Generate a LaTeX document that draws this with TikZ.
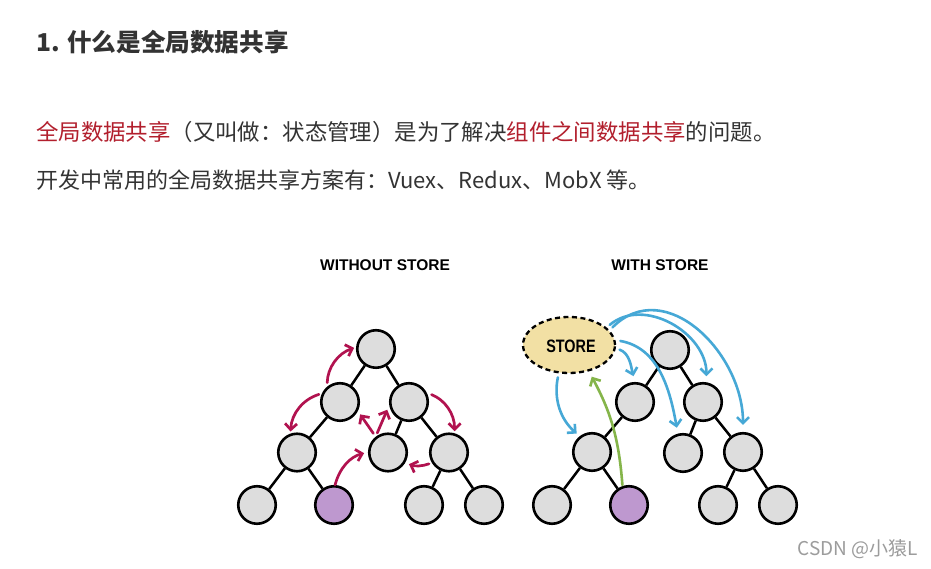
\documentclass[tikz,border=0pt]{standalone}
\usepackage{fontspec}
\setmainfont{Noto Sans CJK SC}
\newfontfamily\headfont{Liberation Sans}
\usetikzlibrary{arrows.meta,shapes.geometric}
\definecolor{txt}{HTML}{333333}
\definecolor{hl}{HTML}{B21F2D}
\definecolor{nodegray}{HTML}{DDDDDD}
\definecolor{purp}{HTML}{BE98CF}
\definecolor{magc}{HTML}{B1124F}
\definecolor{bluec}{HTML}{46A8D6}
\definecolor{greenc}{HTML}{85B54A}
\definecolor{storey}{HTML}{F2E0A4}
\definecolor{wm}{HTML}{9C9C9C}
\begin{document}
\begin{tikzpicture}[x=1pt,y=1pt,
  gnode/.style={circle,draw=black,line width=2.6pt,fill=nodegray,minimum size=37.5pt,inner sep=0pt},
  pnode/.style={gnode,fill=purp},
  edge/.style={draw=black,line width=2.5pt},
  tip/.style={-{Straight Barb[length=6pt,width=12pt]}},
  mag/.style={draw=magc,line width=2.7pt,line cap=round,tip},
  blu/.style={draw=bluec,line width=2.6pt,line cap=round,tip},
  grn/.style={draw=greenc,line width=2.6pt,line cap=round,tip},
  head/.style={font=\headfont\fontsize{15.5}{18}\selectfont\bfseries,text=black,anchor=base,inner sep=0pt},
  para/.style={anchor=base west,inner sep=0pt,text=txt}
]
\fill[white] (0,0) rectangle (931,569);
\useasboundingbox (0,0) rectangle (931,569);

% texts
\node[para,font=\fontsize{24.6}{28}\selectfont\bfseries] (title) at (36,517.5) {1. 什么是全局数据共享};
\node[para,font=\fontsize{22.4}{26}\selectfont] (line2) at (36,428.5) {\textcolor{hl}{全局数据共享}（又叫做：状态管理）是为了解决\textcolor{hl}{组件之间数据共享}的问题。};
\node[para,font=\fontsize{22}{26}\selectfont] (line3) at (36,380) {开发中常用的全局数据共享方案有：Vuex、Redux、MobX 等。};
\node[head] (h1) at (385,298.5) {WITHOUT STORE};
\node[head] (h2) at (660,298.5) {WITH STORE};
\node[anchor=base east,inner sep=0pt,text=wm,font=\fontsize{19}{22}\selectfont] (wmark) at (918,13) {CSDN @小猿L};

% left tree
\node[gnode] (A0) at (376,220) {};
\node[gnode] (A1) at (340,167) {};
\node[gnode] (A2) at (409,167) {};
\node[gnode] (A3) at (297,116.5) {};
\node[gnode] (A4) at (388,116.5) {};
\node[gnode] (A5) at (449,116.5) {};
\node[gnode] (A6) at (257,64) {};
\node[pnode] (A7) at (334,64) {};
\node[gnode] (A8) at (424,64) {};
\node[gnode] (A9) at (484,64) {};
\draw[edge] (A0) -- (A1);
\draw[edge] (A0) -- (A2);
\draw[edge] (A1) -- (A3);
\draw[edge] (A2) -- (A4);
\draw[edge] (A2) -- (A5);
\draw[edge] (A3) -- (A6);
\draw[edge] (A3) -- (A7);
\draw[edge] (A5) -- (A8);
\draw[edge] (A5) -- (A9);

% magenta arrows
\draw[mag,shorten <=4pt,shorten >=2pt] (A1.130) to[bend left=35] (A0.175);
\draw[mag,shorten <=3pt,shorten >=2pt] (A1.155) to[bend right=35] (A3.109);
\draw[mag,shorten <=4pt,shorten >=4pt] (A4.128) -- (A1.-27);
\draw[mag,shorten <=4pt,shorten >=5pt] (A4.128) -- (A2.189);
\draw[mag,shorten <=5pt,shorten >=2pt] (A2.27) to[bend left=35] (A5.74);
\draw[mag,shorten <=3pt,shorten >=4pt] (A5.211) to[bend left=20] (A4.329);
\draw[mag,shorten <=0pt,shorten >=4pt] (A7.87) to[bend left=30] (A4.179);

% right tree
\node[ellipse,draw=black,line width=2.3pt,dash pattern=on 5pt off 3.5pt,fill=storey,minimum width=92pt,minimum height=56pt,inner sep=0pt] (S) at (569,224) {};
\node[font=\headfont\fontsize{18}{20}\selectfont\bfseries,inner sep=0pt,xscale=0.8] (stxt) at (571,223) {STORE};
\node[gnode] (B0) at (670,219) {};
\node[gnode] (B1) at (635,167) {};
\node[gnode] (B2) at (703,167) {};
\node[gnode] (B3) at (592,117) {};
\node[gnode] (B4) at (683,116) {};
\node[gnode] (B5) at (743,117) {};
\node[gnode] (B6) at (552,64) {};
\node[pnode] (B7) at (629,64) {};
\node[gnode] (B8) at (718,64) {};
\node[gnode] (B9) at (778,64) {};
\draw[edge] (B0) -- (B1);
\draw[edge] (B0) -- (B2);
\draw[edge] (B1) -- (B3);
\draw[edge] (B2) -- (B4);
\draw[edge] (B2) -- (B5);
\draw[edge] (B3) -- (B6);
\draw[edge] (B3) -- (B7);
\draw[edge] (B5) -- (B8);
\draw[edge] (B5) -- (B9);

% blue arrows
\draw[blu,shorten <=4pt,shorten >=4pt] (S.250) to[bend right=30] (B3.128);
\draw[blu,shorten <=4pt,shorten >=6pt] (S.356) to[out=-20,in=105] (B1.90);
\draw[blu,shorten <=5pt,shorten >=6pt] (S.6) to[out=-10,in=100] (B4.105);
\draw[blu,shorten <=4pt,shorten >=6pt] (S.25) to[out=40,in=90,looseness=1.1] (B2.80);
\draw[blu,shorten <=4pt,shorten >=7pt] (S.20) to[out=45,in=90,looseness=1.2] (B5.90);
% green arrow
\draw[grn,shorten <=1pt,shorten >=6pt] (B7.109) to[bend right=12] (S.307);
\end{tikzpicture}
\end{document}
